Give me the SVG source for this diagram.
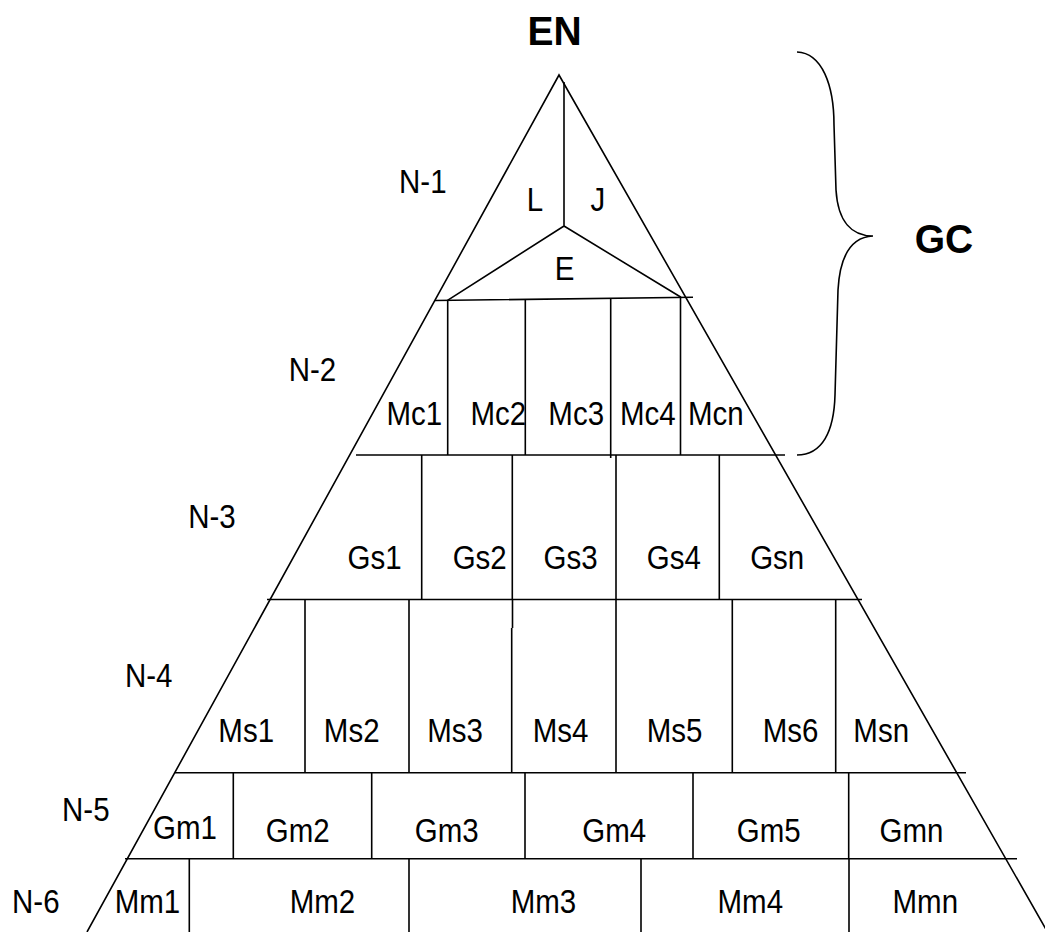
<svg xmlns="http://www.w3.org/2000/svg" width="1045" height="932" viewBox="0 0 1045 932">
<style>
  .ln { stroke: #000; stroke-width: 1.6; fill: none; stroke-linecap: butt; }
  .t { font-family: "Liberation Sans", Arial, sans-serif; font-size: 29.5px; fill: #000; text-anchor: middle; }
  .b { font-family: "Liberation Sans", Arial, sans-serif; font-size: 39px; font-weight: bold; fill: #000; text-anchor: middle; }
</style>
<rect width="1045" height="932" fill="#fff"/>

<g id="connectors">
  <!-- outer triangle -->
  <polyline class="ln" points="87,932 559,75 1047.5,932"/>
  <!-- top section -->
  <path class="ln" d="M564,82 L564,226 M447.5,300.3 L564,226 L681,297.3"/>
  <!-- horizontal level lines -->
  <path class="ln" d="M435,300.5 L693,297.3 M356,455 L785,455 M267,599.5 L862,599.5 M175,772.7 L966,772.7 M125,858.7 L1017,858.7"/>
  <!-- N-2 row verticals -->
  <path class="ln" d="M447.7,300.3 V455 M525.3,299.4 V455 M610.7,298.3 V458 M680.5,297.4 V455"/>
  <!-- N-3 row verticals -->
  <path class="ln" d="M421.7,455 V599.5 M512.3,455 V599.5 M616,455 V599.5 M719.3,455 V599.5"/>
  <!-- N-4 row verticals -->
  <path class="ln" d="M305,599.5 V772.7 M409,599.5 V772.7 M512.5,599.5 V628 M511.7,628 V772.7 M616,599.5 V772.7 M732.3,599.5 V772.7 M835.7,599.5 V772.7"/>
  <!-- N-5 row verticals -->
  <path class="ln" d="M233.3,772.7 V858.7 M371.7,772.7 V858.7 M525,772.7 V858.7 M693,772.7 V858.7 M848.7,772.7 V858.7"/>
  <!-- N-6 row verticals -->
  <path class="ln" d="M189.3,858.7 V932 M409,858.7 V932 M641,858.7 V932 M849,858.7 V932"/>
  <!-- brace -->
  <path class="ln" d="M797,52 C822,53 834,85 834,125 L836,190 C838,222 852,236 873,236 C852,237 840,254 838,290 L835,395 C834,432 822,455 797,455"/>
</g>

<g id="title-EN"><text class="b" transform="translate(554.5,45) scale(1,1.06)">EN</text></g>
<g id="label-GC"><text class="b" transform="translate(944,253) scale(1,1.02)">GC</text></g>

<g id="levels">
  <text class="t" transform="translate(422.8,193.3) scale(1,1.1)">N-1</text>
  <text class="t" transform="translate(312.5,381) scale(1,1.1)">N-2</text>
  <text class="t" transform="translate(212,528.3) scale(1,1.1)">N-3</text>
  <text class="t" transform="translate(148.7,686.7) scale(1,1.1)">N-4</text>
  <text class="t" transform="translate(85.8,821) scale(1,1.1)">N-5</text>
  <text class="t" transform="translate(35.8,913.3) scale(1,1.1)">N-6</text>
</g>

<g id="node-L"><text class="t" transform="translate(535,211) scale(1,1.1)">L</text></g>
<g id="node-J"><text class="t" transform="translate(597.8,211) scale(1,1.1)">J</text></g>
<g id="node-E"><text class="t" transform="translate(564.5,280) scale(1,1.1)">E</text></g>

<g id="node-Mc1"><text class="t" transform="translate(414.3,425) scale(1,1.1)">Mc1</text></g>
<g id="node-Mc2"><text class="t" transform="translate(498.3,425) scale(1,1.1)">Mc2</text></g>
<g id="node-Mc3"><text class="t" transform="translate(576.2,425) scale(1,1.1)">Mc3</text></g>
<g id="node-Mc4"><text class="t" transform="translate(647.8,425) scale(1,1.1)">Mc4</text></g>
<g id="node-Mcn"><text class="t" transform="translate(715.8,425) scale(1,1.1)">Mcn</text></g>

<g id="node-Gs1"><text class="t" transform="translate(374.5,569) scale(1,1.1)">Gs1</text></g>
<g id="node-Gs2"><text class="t" transform="translate(479.7,569) scale(1,1.1)">Gs2</text></g>
<g id="node-Gs3"><text class="t" transform="translate(570.5,569) scale(1,1.1)">Gs3</text></g>
<g id="node-Gs4"><text class="t" transform="translate(673.8,569) scale(1,1.1)">Gs4</text></g>
<g id="node-Gsn"><text class="t" transform="translate(777.2,569) scale(1,1.1)">Gsn</text></g>

<g id="node-Ms1"><text class="t" transform="translate(246.2,742.3) scale(1,1.1)">Ms1</text></g>
<g id="node-Ms2"><text class="t" transform="translate(351.7,742.3) scale(1,1.1)">Ms2</text></g>
<g id="node-Ms3"><text class="t" transform="translate(455,742.3) scale(1,1.1)">Ms3</text></g>
<g id="node-Ms4"><text class="t" transform="translate(560.5,742.3) scale(1,1.1)">Ms4</text></g>
<g id="node-Ms5"><text class="t" transform="translate(674.5,742.3) scale(1,1.1)">Ms5</text></g>
<g id="node-Ms6"><text class="t" transform="translate(790.5,742.3) scale(1,1.1)">Ms6</text></g>
<g id="node-Msn"><text class="t" transform="translate(881.2,742.3) scale(1,1.1)">Msn</text></g>

<g id="node-Gm1"><text class="t" transform="translate(185,839) scale(1,1.1)">Gm1</text></g>
<g id="node-Gm2"><text class="t" transform="translate(297.8,841.7) scale(1,1.1)">Gm2</text></g>
<g id="node-Gm3"><text class="t" transform="translate(446.7,841.7) scale(1,1.1)">Gm3</text></g>
<g id="node-Gm4"><text class="t" transform="translate(614.2,841.7) scale(1,1.1)">Gm4</text></g>
<g id="node-Gm5"><text class="t" transform="translate(768.8,841.7) scale(1,1.1)">Gm5</text></g>
<g id="node-Gmn"><text class="t" transform="translate(911.5,841.7) scale(1,1.1)">Gmn</text></g>

<g id="node-Mm1"><text class="t" transform="translate(147.5,913.3) scale(1,1.1)">Mm1</text></g>
<g id="node-Mm2"><text class="t" transform="translate(322.5,913.3) scale(1,1.1)">Mm2</text></g>
<g id="node-Mm3"><text class="t" transform="translate(543.5,913.3) scale(1,1.1)">Mm3</text></g>
<g id="node-Mm4"><text class="t" transform="translate(750.3,913.3) scale(1,1.1)">Mm4</text></g>
<g id="node-Mmn"><text class="t" transform="translate(925.3,913.3) scale(1,1.1)">Mmn</text></g>
</svg>
